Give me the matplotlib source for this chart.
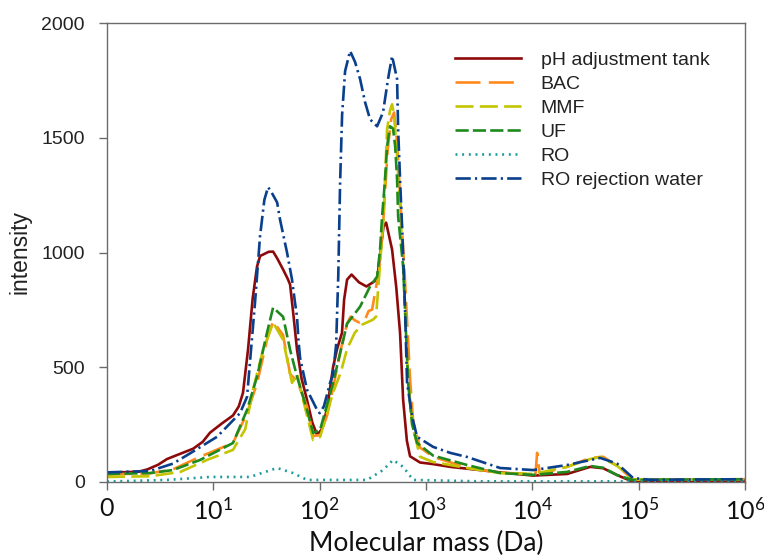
import numpy as np
import matplotlib
matplotlib.use("Agg")
import matplotlib.pyplot as plt

# ---- data (log10 of molecular mass in Da, intensity) ----
ph_logm = [0.0, 0.30, 0.38, 0.48, 0.564, 0.70, 0.81, 0.90, 0.969, 1.08, 1.185, 1.24, 1.279, 1.326,
           1.37, 1.411, 1.44, 1.468, 1.52, 1.562, 1.60, 1.656, 1.70, 1.722, 1.755, 1.787, 1.83,
           1.881, 1.93, 1.976, 2.02, 2.070, 2.126, 2.164, 2.21, 2.23, 2.258, 2.30, 2.37, 2.44,
           2.54, 2.60, 2.625, 2.681, 2.72, 2.756, 2.785, 2.82, 2.85, 2.944, 3.067, 3.227, 3.387,
           3.697, 4.008, 4.327, 4.544, 4.666, 4.798, 4.92, 5.1, 6.0]
ph_int = [40, 45, 55, 75, 100, 125, 145, 175, 215, 255, 290, 330, 389, 576,
          800, 939, 985, 991, 1003, 1004, 975, 926, 885, 860, 720, 576, 450,
          358, 260, 205, 230, 320, 500, 580, 650, 795, 882, 904, 870, 852,
          882, 1113, 1130, 1013, 850, 650, 358, 180, 112, 85, 78, 66, 58,
          42, 28, 35, 66, 60, 30, 6, 5, 6]

bac_logm = [0.0, 0.405, 0.62, 0.875, 1.185, 1.317, 1.411, 1.505, 1.562, 1.656, 1.722, 1.787,
            1.881, 1.938, 2.004, 2.07, 2.126, 2.20, 2.258, 2.29, 2.33, 2.37, 2.42, 2.46, 2.493,
            2.521, 2.56, 2.60, 2.64, 2.672, 2.70, 2.728, 2.756, 2.80, 2.85, 2.88, 2.944, 3.067,
            3.387, 3.697, 4.008, 4.03, 4.045, 4.07, 4.327, 4.544, 4.666, 4.798, 4.948, 5.1, 6.0]
bac_int = [33, 38, 55, 110, 170, 300, 430, 620, 700, 640, 470, 440,
           330, 200, 205, 290, 410, 580, 690, 720, 705, 695, 700, 745, 751,
           825, 926, 1150, 1450, 1580, 1610, 1480, 1250, 900, 450, 260, 150, 110,
           62, 40, 35, 35, 127, 35, 66, 105, 110, 70, 10, 10, 12]

mmf_logm = [0.0, 0.405, 0.69, 0.94, 1.185, 1.30, 1.373, 1.468, 1.562, 1.656, 1.740, 1.79,
            1.844, 1.938, 2.004, 2.126, 2.20, 2.258, 2.33, 2.40, 2.50, 2.53, 2.56, 2.60,
            2.634, 2.662, 2.681, 2.70, 2.728, 2.756, 2.785, 2.832, 2.87, 2.944, 3.067, 3.387,
            3.697, 4.008, 4.327, 4.544, 4.638, 4.798, 4.948, 5.1, 6.0]
mmf_int = [22, 25, 44, 96, 140, 230, 402, 576, 694, 620, 432, 470,
           358, 183, 197, 389, 480, 580, 650, 686, 707, 720, 900, 1150,
           1537, 1620, 1646, 1600, 1420, 1200, 950, 450, 250, 110, 87, 61,
           39, 35, 66, 100, 109, 70, 12, 10, 12]

uf_logm = [0.0, 0.405, 0.62, 0.875, 1.185, 1.317, 1.411, 1.505, 1.562, 1.656, 1.722, 1.787,
           1.881, 1.938, 2.004, 2.126, 2.258, 2.38, 2.474, 2.540, 2.568, 2.587, 2.615, 2.634,
           2.662, 2.69, 2.71, 2.728, 2.738, 2.785, 2.832, 2.87, 2.916, 3.067, 3.387, 3.697,
           4.008, 4.327, 4.544, 4.666, 4.798, 4.948, 5.1, 6.0]
uf_int = [35, 39, 52, 96, 170, 314, 459, 651, 760, 720, 576, 459,
          314, 214, 227, 432, 690, 764, 852, 895, 1013, 1157, 1319, 1463,
          1550, 1540, 1463, 1319, 1157, 939, 432, 250, 170, 115, 74, 39,
          31, 44, 70, 62, 30, 8, 10, 12]

ro_logm = [0.0, 0.564, 0.969, 1.345, 1.599, 1.750, 1.881, 2.446, 2.596, 2.690, 2.785, 2.879,
           3.5, 6.0]
ro_int = [2, 9, 22, 22, 61, 39, 9, 9, 52, 96, 66, 9, 3, 3]

rej_logm = [0.0, 0.405, 0.62, 0.80, 0.94, 1.035, 1.251, 1.317, 1.392, 1.439, 1.48, 1.515, 1.55,
            1.60, 1.627, 1.693, 1.740, 1.768, 1.787, 1.80, 1.816, 1.881, 1.976, 2.00, 2.04,
            2.098, 2.126, 2.155, 2.175, 2.192, 2.211, 2.239, 2.286, 2.333, 2.380, 2.427, 2.474,
            2.540, 2.596, 2.643, 2.681, 2.728, 2.738, 2.756, 2.775, 2.80, 2.822, 2.87, 2.916,
            3.067, 3.227, 3.387, 3.697, 4.008, 4.327, 4.638, 4.798, 4.948, 5.1, 6.0]
rej_int = [42, 48, 80, 130, 170, 197, 300, 371, 782, 1070, 1230, 1285, 1260,
           1218, 1144, 1000, 882, 782, 720, 620, 540, 402, 314, 300, 330,
           432, 470, 600, 900, 1300, 1600, 1790, 1878, 1830, 1756, 1655, 1580,
           1550, 1611, 1756, 1856, 1756, 1537, 1319, 1113, 800, 432, 284, 197,
           153, 127, 109, 61, 52, 74, 105, 80, 17, 10, 12]

labels = ["pH adjustment tank", "BAC", "MMF", "UF", "RO", "RO rejection water"]
xtick_labels = ["0", r"$\mathregular{10^{1}}$", r"$\mathregular{10^{2}}$", r"$\mathregular{10^{3}}$",
                r"$\mathregular{10^{4}}$", r"$\mathregular{10^{5}}$", r"$\mathregular{10^{6}}$"]
yticks = [0, 500, 1000, 1500, 2000]

# ---- style ----
plt.rcParams['lines.scale_dashes'] = False
plt.rcParams['mathtext.fontset'] = 'custom'
plt.rcParams['mathtext.rm'] = 'Lato'
plt.rcParams['mathtext.it'] = 'Lato:italic'
plt.rcParams['mathtext.bf'] = 'Lato:bold'

series = [(ph_logm, ph_int), (bac_logm, bac_int), (mmf_logm, mmf_int),
          (uf_logm, uf_int), (ro_logm, ro_int), (rej_logm, rej_int)]
colors = ["#8E0A0A", "#FF8A1C", "#C4C400", "#1E8A1E", "#1C9C9C", "#0A3F8C"]
dashes = [None, (18, 6), (13, 4.5), (9.5, 3), (1.4, 3.4), (11, 3, 1.6, 3)]

fig = plt.figure(figsize=(7.64, 5.59), dpi=100)
ax = fig.add_axes([107/764, 1-482/559, (745-107)/764, (482-23)/559])

for (lm, iv), c, d, lab in zip(series, colors, dashes, labels):
    xm = np.power(10.0, np.array(lm))
    line, = ax.plot(xm, iv, color=c, lw=1.9, label=lab,
                    solid_joinstyle='round', dash_joinstyle='round')
    if d is not None:
        line.set_dashes(d)

ax.set_xscale('log')
ax.set_xlim(1, 1e6)
ax.set_ylim(0, 2000)
ax.set_xticks([10.0**k for k in range(7)])
ax.set_xticklabels(xtick_labels)
ax.xaxis.set_minor_locator(matplotlib.ticker.NullLocator())
ax.set_yticks(yticks)
ax.set_yticklabels([str(v) for v in yticks])

for s in ax.spines.values():
    s.set_color("#6b6b6b")
    s.set_linewidth(1.0)
ax.tick_params(axis='both', direction='out', length=6, width=1.0, color="#6b6b6b")
ax.tick_params(axis='y', pad=10)
ax.tick_params(axis='x', pad=5)
for t in ax.get_yticklabels():
    t.set_fontfamily('Liberation Sans')
    t.set_fontsize(14)
    t.set_color('#222222')
for t in ax.get_xticklabels():
    t.set_fontfamily('Lato')
    t.set_fontsize(18)
    t.set_color('#111111')

ax.set_ylabel("intensity", fontfamily='Liberation Sans', fontsize=16.5, color='#222222', labelpad=7)
ax.set_xlabel("Molecular mass (Da)", fontfamily='Lato', fontsize=19, color='#111111', labelpad=5)

leg = ax.legend(loc='upper left', bbox_to_anchor=(455/764, 1-51/559), bbox_transform=fig.transFigure,
                frameon=False, prop={'family': 'Liberation Sans', 'size': 14},
                handlelength=3.4, handletextpad=1.0, labelspacing=0.33,
                borderpad=0, borderaxespad=0)
for t in leg.get_texts():
    t.set_color('#222222')

fig.savefig("out.png", dpi=100)
